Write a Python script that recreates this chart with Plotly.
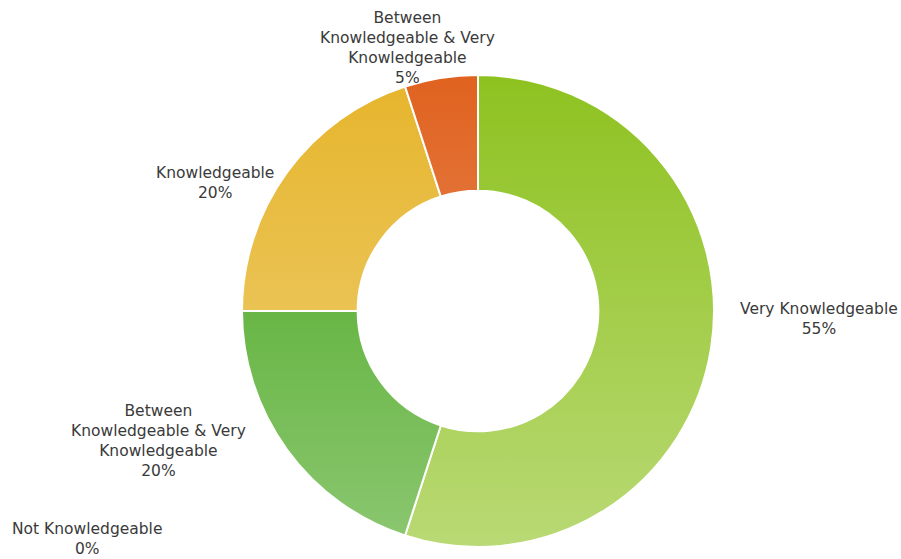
import base64
import textwrap
import plotly.graph_objects as go

# Survey answers, clockwise from 12 o'clock
categories = [
    "Very Knowledgeable",
    "Between Knowledgeable & Very Knowledgeable",
    "Not Knowledgeable",
    "Knowledgeable",
    "Between Knowledgeable & Very Knowledgeable",
]
shares = [55, 20, 0, 20, 5]

# Base slice colours; a soft white wash is laid over the ring from top to bottom
slice_colors = ["#8ec220", "#45a51a", "#9bc95a", "#e6b52c", "#e0621f"]

# Label anchor points (paper coords) for each category, same order as above
label_xy = [
    (819 / 901, 1 - 319 / 559),
    (158 / 901, 1 - 441 / 559),
    (87 / 901, 1 - 539 / 559),
    (215 / 901, 1 - 183 / 559),
    (407 / 901, 1 - 48 / 559),
]

W, H = 901, 559
cx, cy, r = 478, 311, 236

fig = go.Figure(
    go.Pie(
        values=shares,
        text=categories,
        textinfo="none",
        hole=0.51,
        sort=False,
        direction="clockwise",
        rotation=0,
        marker=dict(colors=slice_colors, line=dict(color="white", width=2)),
        domain=dict(
            x=[(cx - r) / W, (cx + r) / W],
            y=[(H - cy - r) / H, (H - cy + r) / H],
        ),
        showlegend=False,
        hoverinfo="text+percent",
    )
)

# Vertical white wash (transparent at the top, lighter towards the bottom)
wash_svg = (
    '<svg xmlns="http://www.w3.org/2000/svg" width="100" height="100" '
    'preserveAspectRatio="none">'
    '<defs><linearGradient id="g" x1="0" y1="0" x2="0" y2="1">'
    '<stop offset="0" stop-color="#ffffff" stop-opacity="0"/>'
    '<stop offset="1" stop-color="#ffffff" stop-opacity="0.38"/>'
    '</linearGradient></defs>'
    '<rect width="100" height="100" fill="url(#g)"/></svg>'
)
wash_uri = "data:image/svg+xml;base64," + base64.b64encode(wash_svg.encode()).decode()
fig.add_layout_image(
    source=wash_uri,
    xref="paper", yref="paper",
    x=(cx - r) / W, y=(H - cy + r) / H,
    sizex=2 * r / W, sizey=2 * r / H,
    xanchor="left", yanchor="top",
    sizing="stretch",
    layer="above",
)

for name, val, (x, y) in zip(categories, shares, label_xy):
    lines = textwrap.wrap(name, width=20) + [f"{val}%"]
    fig.add_annotation(
        x=x, y=y, xref="paper", yref="paper",
        text="<br>".join(lines),
        showarrow=False,
        xanchor="center", yanchor="middle",
        align="center",
        font=dict(family="DejaVu Sans", size=15.5, color="#3a3a3a"),
    )

fig.update_layout(
    width=W, height=H,
    margin=dict(l=0, r=0, t=0, b=0),
    paper_bgcolor="white",
    plot_bgcolor="white",
)

fig.write_html("out.html")
